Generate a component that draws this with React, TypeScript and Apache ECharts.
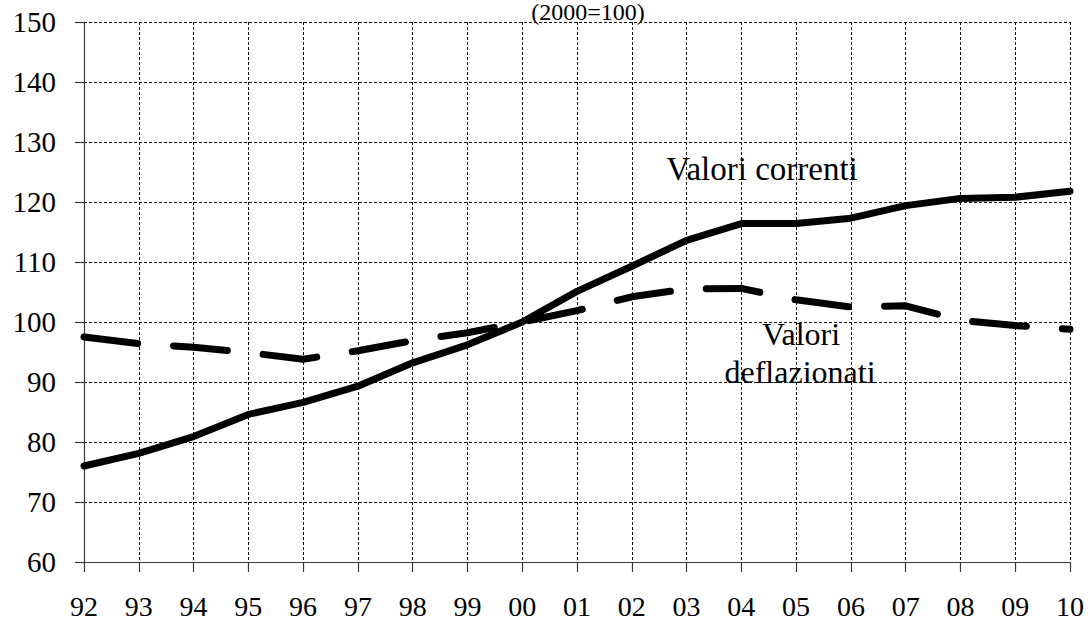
import React, { useEffect, useRef } from "react";
import * as echarts from "echarts";

const years = ["92", "93", "94", "95", "96", "97", "98", "99", "00", "01", "02", "03", "04", "05", "06", "07", "08", "09", "10"];
const valoriCorrenti = [76, 78.1, 80.9, 84.6, 86.6, 89.3, 93.2, 96.2, 100, 105.1, 109.3, 113.6, 116.4, 116.4, 117.3, 119.4, 120.6, 120.8, 121.8];
const valoriDeflazionati = [97.5, 96.4, 95.8, 94.9, 93.8, 95.2, 96.9, 98.2, 100, 101.9, 104.2, 105.5, 105.6, 103.7, 102.5, 102.7, 100.3, 99.4, 98.8];
const yMin = 60;
const yMax = 150;
const yStep = 10;

const FONT = "Times New Roman, Liberation Serif, DejaVu Serif, serif";

export default function App() {
  const ref = useRef<HTMLDivElement>(null);
  useEffect(() => {
    document.body.style.margin = "0";
    if (!ref.current) return;
    const chart = echarts.init(ref.current, null, { renderer: "svg" });
    chart.setOption({
      animation: false,
      backgroundColor: "#ffffff",
      textStyle: { fontFamily: FONT },
      grid: { left: 84, right: 21, top: 22, bottom: 61, containLabel: false },
      xAxis: {
        type: "category",
        data: years,
        boundaryGap: false,
        axisLine: { show: true, lineStyle: { color: "#3a3a3a", width: 1.2 } },
        axisTick: { show: true, length: 10, lineStyle: { color: "#3a3a3a", width: 1.2 } },
        axisLabel: { color: "#000", fontFamily: FONT, fontSize: 28, margin: 30 },
        splitLine: { show: true, lineStyle: { color: "#111", width: 1, type: [3, 2] } },
      },
      yAxis: {
        type: "value",
        min: yMin,
        max: yMax,
        interval: yStep,
        axisLine: { show: true, lineStyle: { color: "#3a3a3a", width: 1.2 } },
        axisTick: { show: true, length: 9, lineStyle: { color: "#3a3a3a", width: 1.2 } },
        axisLabel: { color: "#000", fontFamily: FONT, fontSize: 29, margin: 28 },
        splitLine: { show: true, lineStyle: { color: "#111", width: 1, type: [3, 2] } },
      },
      series: [
        {
          name: "Valori correnti",
          type: "line",
          data: valoriCorrenti,
          symbol: "none",
          lineStyle: { color: "#000", width: 7, cap: "round", join: "round" },
        },
        {
          name: "Valori deflazionati",
          type: "line",
          data: valoriDeflazionati,
          symbol: "none",
          lineStyle: { color: "#000", width: 7, type: [54, 36], cap: "round", join: "round" },
        },
      ],
      graphic: [
        {
          type: "text",
          x: 588,
          y: 12,
          style: { text: "(2000=100)", fontFamily: FONT, fontSize: 24, fill: "#000", align: "center", verticalAlign: "middle" },
        },
        {
          type: "text",
          x: 762,
          y: 169,
          style: { text: "Valori correnti", fontFamily: FONT, fontSize: 33, fill: "#000", align: "center", verticalAlign: "middle" },
        },
        {
          type: "text",
          x: 801,
          y: 334,
          style: { text: "Valori", fontFamily: FONT, fontSize: 32, fill: "#000", align: "center", verticalAlign: "middle" },
        },
        {
          type: "text",
          x: 800,
          y: 372,
          style: { text: "deflazionati", fontFamily: FONT, fontSize: 32, fill: "#000", align: "center", verticalAlign: "middle" },
        },
      ],
    });
    return () => chart.dispose();
  }, []);
  return <div ref={ref} style={{ width: 1091, height: 623 }} />;
}
